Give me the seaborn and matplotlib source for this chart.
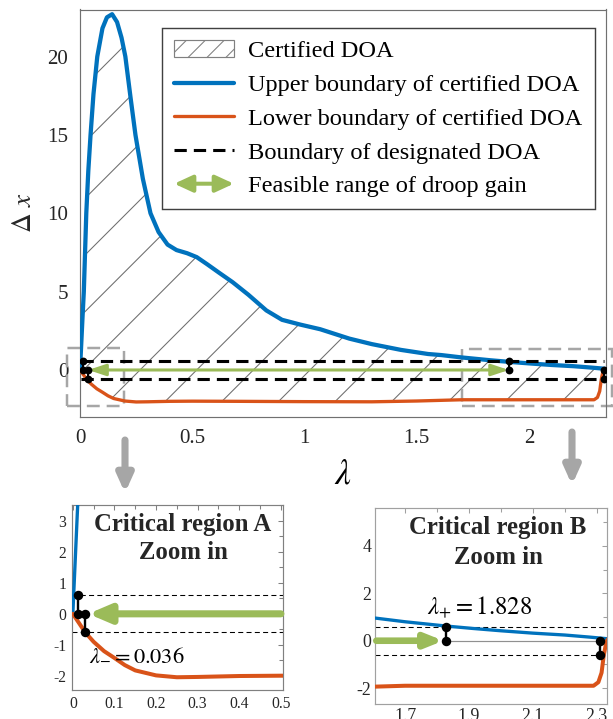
import matplotlib
matplotlib.use("Agg")
import matplotlib.pyplot as plt
import seaborn as sns
import numpy as np
from matplotlib.patches import Patch, FancyArrowPatch, Rectangle
from matplotlib.lines import Line2D
from matplotlib.legend_handler import HandlerBase
from matplotlib.ticker import FixedLocator, MultipleLocator

# ---------------- data ----------------
lam_upper = [0, 0.004, 0.011, 0.017, 0.028, 0.037, 0.047, 0.06, 0.077, 0.1, 0.12, 0.143,
             0.165, 0.185, 0.202, 0.225, 0.247, 0.28, 0.314, 0.35, 0.39, 0.43, 0.477,
             0.52, 0.566, 0.62, 0.68, 0.75, 0.83, 0.9, 0.98, 1.07, 1.2, 1.3, 1.43, 1.55, 1.61,
             1.7, 1.828, 1.91, 2.0, 2.1, 2.2, 2.28, 2.336]
dx_upper = [0, 1.2, 3.3, 5.0, 10.0, 12.7, 15.0, 17.6, 20.0, 21.8, 22.5, 22.7,
            22.2, 21.2, 20.0, 17.4, 15.0, 12.2, 10.0, 8.8, 8.0, 7.65, 7.45,
            7.2, 6.75, 6.2, 5.6, 4.8, 3.8, 3.2, 2.9, 2.6, 2.0, 1.65, 1.28, 1.02, 0.95,
            0.8, 0.62, 0.52, 0.42, 0.32, 0.24, 0.15, 0.08]

lam_lower = [0, 0.01, 0.02, 0.03, 0.05, 0.075, 0.1, 0.125, 0.15, 0.2, 0.25, 0.3, 0.4,
             0.5, 0.7, 1.0, 1.3, 1.5, 1.7, 2.0, 2.29, 2.305, 2.315, 2.322, 2.33, 2.336]
dx_lower = [0, -0.2, -0.4, -0.6, -0.9, -1.2, -1.42, -1.65, -1.82, -1.98, -2.04, -2.03, -2.0,
            -1.99, -2.0, -2.02, -2.03, -1.98, -1.9, -1.9, -1.9, -1.75, -1.35, -0.6, -0.05, 0.08]

designated_bound = 0.6
lam_minus_text = "0.036"
lam_plus_text = "1.828"

main_bar_lam = [0.012, 0.036, 1.91, 2.333]
main_bar_end = [0.6, -0.6, 0.6, -0.6]
main_arrow_range = [0.037, 1.91]

insetA_bar_lam = [0.012, 0.03]
insetA_bar_end = [0.6, -0.6]
insetA_arrow = [0.5, 0.037]

insetB_bar_lam = [1.828, 2.311]
insetB_bar_end = [0.6, -0.6]
insetB_arrow = [1.61, 1.82]
insetB_zero_line = [1.828, 2.311]

main_xticks = [0, 0.5, 1, 1.5, 2]
main_xticklabels = ["0", "0.5", "1", "1.5", "2"]
main_yticks = [0, 5, 10, 15, 20]
main_yticklabels = ["0", "5", "10", "15", "20"]

A_xticks = [0, 0.1, 0.2, 0.3, 0.4, 0.5]
A_xticklabels = ["0", "0.1", "0.2", "0.3", "0.4", "0.5"]
A_yticks = [-2, -1, 0, 1, 2, 3]
A_yticklabels = ["-2", "-1", "0", "1", "2", "3"]

B_xticks = [1.7, 1.9, 2.1, 2.3]
B_xticklabels = ["1.7", "1.9", "2.1", "2.3"]
B_yticks = [-2, 0, 2, 4]
B_yticklabels = ["-2", "0", "2", "4"]

legend_labels = ["Certified DOA", "Upper boundary of certified DOA",
                 "Lower boundary of certified DOA", "Boundary of designated DOA",
                 "Feasible range of droop gain"]

# ---------------- style ----------------
BLUE = "#0072BD"
ORANGE = "#D95319"
GREEN = "#9BBB59"
LGREY = "#A6A6A6"
HATCH = "#6e6e6e"
TXT = "#262626"

sns.set_style("white")
plt.rcParams["font.family"] = ["Liberation Serif", "DejaVu Serif"]
plt.rcParams["mathtext.fontset"] = "stix"
plt.rcParams["axes.unicode_minus"] = False
plt.rcParams["hatch.linewidth"] = 0.45

DPI = 170
fig = plt.figure(figsize=(613 / DPI, 719 / DPI), dpi=DPI)
W, H = 613.0, 719.0


def box(l, t, r, b):
    return [l / W, 1 - b / H, (r - l) / W, (b - t) / H]


ax = fig.add_axes(box(80, 9.5, 606, 417))
axA = fig.add_axes(box(72, 505, 283, 690))
axB = fig.add_axes(box(375, 508, 607, 704))

# ---------------- main axes ----------------
poly_x = np.r_[lam_upper, lam_lower[::-1]]
poly_y = np.r_[dx_upper, dx_lower[::-1]]
ax.fill(poly_x, poly_y, facecolor="none", edgecolor=HATCH, hatch="/", lw=0, zorder=1)

sns.lineplot(x=lam_upper, y=dx_upper, ax=ax, color=BLUE, lw=1.8, estimator=None, sort=False, zorder=3)
sns.lineplot(x=lam_lower, y=dx_lower, ax=ax, color=ORANGE, lw=1.4, estimator=None, sort=False, zorder=3)

for yb in (designated_bound, -designated_bound):
    ax.plot([0.005, 2.333], [yb, yb], color="black", lw=1.3, dashes=(4, 2.3), zorder=4)

ax.annotate("", xy=(main_arrow_range[1], 0), xytext=(main_arrow_range[0], 0),
            arrowprops=dict(arrowstyle="<|-|>,head_length=0.6,head_width=0.2",
                            mutation_scale=10, color=GREEN, lw=1.3, shrinkA=0, shrinkB=0),
            zorder=5)

for xb, yb in zip(main_bar_lam, main_bar_end):
    ax.plot([xb, xb], [0, yb], color="black", lw=0.9, marker="o", ms=2.3, zorder=6)

# dashed grey zoom rectangles
for (x0, y0, w, h) in [(-0.056, -2.29, 0.254, 3.69), (1.70, -2.33, 0.67, 3.66)]:
    ax.add_patch(Rectangle((x0, y0), w, h, fill=False, edgecolor=LGREY, lw=1.05,
                           linestyle=(0, (5.2, 2.8)), clip_on=False, zorder=2))

ax.set_xlim(0, 2.343)
ax.set_ylim(-3, 23)
ax.xaxis.set_major_locator(FixedLocator(main_xticks))
ax.set_xticklabels(main_xticklabels)
ax.yaxis.set_major_locator(FixedLocator(main_yticks))
ax.set_yticklabels(main_yticklabels)
ax.tick_params(direction="in", length=1.8, width=0.5, color="#707070",
               labelsize=8.9, labelcolor=TXT, pad=5)
for s in ax.spines.values():
    s.set_color("#707070")
    s.set_linewidth(0.5)

ax.set_xlabel(r"$\lambda$", fontsize=15, color="black")
ax.xaxis.set_label_coords(0.5, -0.142)
ax.xaxis.label.set_va("center")
ax.set_ylabel(r"$\Delta\ x$", fontsize=11.5, color=TXT)
ax.yaxis.set_label_coords(-0.105, 0.5)
ax.yaxis.label.set_va("center")


class HandlerDoubleArrow(HandlerBase):
    def create_artists(self, legend, orig_handle, xdescent, ydescent, width, height, fontsize, trans):
        y = height / 2 - ydescent
        arr = FancyArrowPatch((-xdescent, y), (-xdescent + width, y),
                              arrowstyle="<|-|>,head_length=0.65,head_width=0.3",
                              mutation_scale=10, color=GREEN, lw=1.7,
                              shrinkA=0, shrinkB=0, transform=trans)
        return [arr]


arrow_proxy = FancyArrowPatch((0, 0), (1, 0))
handles = [
    Patch(facecolor="white", edgecolor="#808080", hatch="///", lw=0.5),
    Line2D([], [], color=BLUE, lw=1.8),
    Line2D([], [], color=ORANGE, lw=1.4),
    Line2D([], [], color="black", lw=1.3, dashes=(4, 2.3)),
    arrow_proxy,
]
leg = ax.legend(handles, legend_labels, loc="upper left", bbox_to_anchor=(0.156, 0.954),
                fontsize=10.3, frameon=True, fancybox=False, framealpha=1,
                edgecolor="#404040", handlelength=2.45, handletextpad=0.6,
                labelspacing=0.48, borderpad=0.5, borderaxespad=0,
                handler_map={FancyArrowPatch: HandlerDoubleArrow()})
leg.get_frame().set_linewidth(0.6)
for t in leg.get_texts():
    t.set_color("black")

# ---------------- inset A ----------------
sns.lineplot(x=lam_upper, y=dx_upper, ax=axA, color=BLUE, lw=1.4, estimator=None, sort=False, zorder=3)
sns.lineplot(x=lam_lower, y=dx_lower, ax=axA, color=ORANGE, lw=1.7, estimator=None, sort=False, zorder=3)
for yb in (designated_bound, -designated_bound):
    axA.axhline(yb, color="black", lw=0.45, dashes=(4.7, 3.1), zorder=2)
axA.annotate("", xy=(insetA_arrow[1], 0), xytext=(insetA_arrow[0], 0),
             arrowprops=dict(arrowstyle="-|>,head_length=0.75,head_width=0.32",
                             mutation_scale=10, color=GREEN, lw=3.0, shrinkA=0, shrinkB=0,
                             capstyle="round"), zorder=4)
for xb, yb in zip(insetA_bar_lam, insetA_bar_end):
    axA.plot([xb, xb], [0, yb], color="black", lw=1.0, marker="o", ms=3.0, zorder=6)
axA.text(0.04, -1.35, r"$\lambda_{-}=$" + r"$" + lam_minus_text + r"$", fontsize=9.5,
         ha="left", va="center", color="black", zorder=7)
axA.text(0.526, 0.892, "Critical region A", transform=axA.transAxes, fontsize=10.5,
         fontweight="bold", ha="center", va="center")
axA.text(0.526, 0.741, "Zoom in", transform=axA.transAxes, fontsize=10.5,
         fontweight="bold", ha="center", va="center")
axA.set_xlim(-0.002, 0.505)
axA.set_ylim(-2.45, 3.5)
axA.xaxis.set_major_locator(FixedLocator(A_xticks))
axA.set_xticklabels(A_xticklabels)
axA.yaxis.set_major_locator(FixedLocator(A_yticks))
axA.set_yticklabels(A_yticklabels)
axA.xaxis.set_minor_locator(MultipleLocator(0.05))
axA.yaxis.set_minor_locator(MultipleLocator(0.5))
axA.tick_params(which="both", direction="in", top=True, right=True, width=0.45,
                color="#808080", labelsize=6.6, labelcolor=TXT)
axA.tick_params(which="major", length=2.2, pad=2.5)
axA.tick_params(which="minor", length=1.6)
for s in axA.spines.values():
    s.set_color("#808080")
    s.set_linewidth(0.5)

# ---------------- inset B ----------------
sns.lineplot(x=lam_upper, y=dx_upper, ax=axB, color=BLUE, lw=1.4, estimator=None, sort=False, zorder=3)
sns.lineplot(x=lam_lower, y=dx_lower, ax=axB, color=ORANGE, lw=1.7, estimator=None, sort=False, zorder=3)
for yb in (designated_bound, -designated_bound):
    axB.axhline(yb, color="black", lw=0.45, dashes=(4.7, 3.1), zorder=2)
axB.plot(insetB_zero_line, [0, 0], color="#909090", lw=0.5, zorder=2)
axB.annotate("", xy=(insetB_arrow[1], 0), xytext=(insetB_arrow[0], 0),
             arrowprops=dict(arrowstyle="-|>,head_length=0.6,head_width=0.24",
                             mutation_scale=10, color=GREEN, lw=2.8, shrinkA=0, shrinkB=0),
             zorder=4)
for xb, yb in zip(insetB_bar_lam, insetB_bar_end):
    axB.plot([xb, xb], [0, yb], color="black", lw=1.0, marker="o", ms=3.0, zorder=6)
axB.text(1.768, 1.44, r"$\lambda_{+}=$" + r"$" + lam_plus_text + r"$", fontsize=10.5,
         ha="left", va="center", color="black", zorder=7)
axB.text(0.53, 0.898, "Critical region B", transform=axB.transAxes, fontsize=10.5,
         fontweight="bold", ha="center", va="center")
axB.text(0.53, 0.745, "Zoom in", transform=axB.transAxes, fontsize=10.5,
         fontweight="bold", ha="center", va="center")
axB.set_xlim(1.606, 2.332)
axB.set_ylim(-2.67, 5.6)
axB.xaxis.set_major_locator(FixedLocator(B_xticks))
axB.set_xticklabels(B_xticklabels)
axB.yaxis.set_major_locator(FixedLocator(B_yticks))
axB.set_yticklabels(B_yticklabels)
axB.xaxis.set_minor_locator(MultipleLocator(0.1))
axB.yaxis.set_minor_locator(MultipleLocator(1))
axB.tick_params(which="both", direction="in", top=True, right=True, width=0.45,
                color="#a0a0a0", labelsize=7.6, labelcolor=TXT)
axB.tick_params(which="major", length=2.2, pad=1.5)
axB.tick_params(which="minor", length=1.6)
for s in axB.spines.values():
    s.set_color("#a0a0a0")
    s.set_linewidth(0.5)

# ---------------- grey pointer arrows ----------------
for (xp, y0, y1) in [(125, 440, 493), (572, 432, 485)]:
    fig.add_artist(FancyArrowPatch((xp / W, 1 - y0 / H), (xp / W, 1 - y1 / H),
                                   transform=fig.transFigure,
                                   arrowstyle="-|>,head_length=0.6,head_width=0.27",
                                   mutation_scale=10, color=LGREY, lw=3.0,
                                   shrinkA=0, shrinkB=0, capstyle="round"))

fig.savefig("out.png", dpi=DPI)
